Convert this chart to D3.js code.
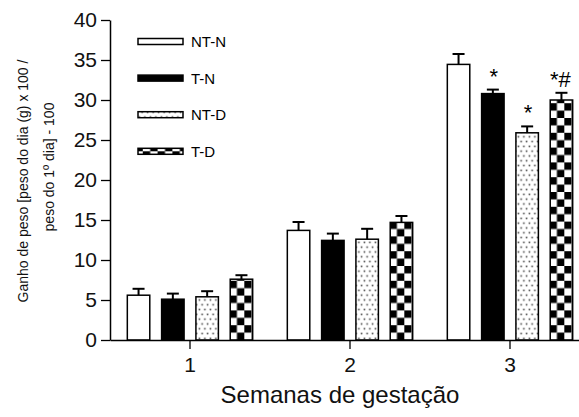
<!DOCTYPE html>
<html>
<head>
<meta charset="utf-8">
<script src="https://cdn.jsdelivr.net/npm/d3@7"></script>
<style>
  body { margin: 0; background: #fff; }
  svg { font-family: "Liberation Sans", Arial, sans-serif; }
</style>
</head>
<body>
<div id="chart"></div>
<script>
const weeks = ["1", "2", "3"];
const series = ["NT-N", "T-N", "NT-D", "T-D"];

// mean weight gain per week (%)
const meanNTN = [5.6, 13.7, 34.45];
const meanTN = [5.1, 12.45, 30.8];
const meanNTD = [5.4, 12.6, 25.9];
const meanTD = [7.6, 14.7, 30.0];

// standard error
const errNTN = [0.8, 1.05, 1.3];
const errTN = [0.7, 0.85, 0.5];
const errNTD = [0.7, 1.3, 0.8];
const errTD = [0.5, 0.8, 0.9];

const yTicks = [0, 5, 10, 15, 20, 25, 30, 35, 40];

const marks = [
    { week: "3", serie: "T-N", label: "*" },
    { week: "3", serie: "NT-D", label: "*" },
    { week: "3", serie: "T-D", label: "*#" }
];

const means = { "NT-N": meanNTN, "T-N": meanTN, "NT-D": meanNTD, "T-D": meanTD };
const errs = { "NT-N": errNTN, "T-N": errTN, "NT-D": errNTD, "T-D": errTD };

const data = [];
weeks.forEach((w, i) => series.forEach(s => data.push({ week: w, serie: s, value: means[s][i], err: errs[s][i] })));

const width = 579, height = 417;
const svg = d3.select("#chart").append("svg")
    .attr("width", width).attr("height", height);

const x = d3.scaleBand().domain(weeks).range([110, 590]);
const xs = d3.scaleBand().domain(series).range([11.4, 148.6]).paddingInner(0.345).paddingOuter(0.1725);
const y = d3.scaleLinear().domain([0, 40]).range([340, 20]);

const defs = svg.append("defs");

const dots = defs.append("pattern").attr("id", "dots")
    .attr("patternUnits", "userSpaceOnUse").attr("width", 5.5).attr("height", 9.6);
dots.append("rect").attr("width", 5.5).attr("height", 9.6).attr("fill", "#fff");
[[1.4, 2.4], [4.15, 7.2]].forEach(([cx, cy]) => {
    dots.append("circle").attr("cx", cx).attr("cy", cy).attr("r", 1.1).attr("fill", "#9a9a9a");
    dots.append("circle").attr("cx", cx).attr("cy", cy).attr("r", 0.5).attr("fill", "#333");
});

function checker(id, x0, y0, size) {
    const p = defs.append("pattern").attr("id", id)
        .attr("patternUnits", "userSpaceOnUse")
        .attr("x", x0).attr("y", y0)
        .attr("width", size * 2).attr("height", size * 2);
    p.append("rect").attr("width", size * 2).attr("height", size * 2).attr("fill", "#fff");
    p.append("rect").attr("width", size).attr("height", size).attr("fill", "#000");
    p.append("rect").attr("x", size).attr("y", size).attr("width", size).attr("height", size).attr("fill", "#000");
    return `url(#${id})`;
}

function fillFor(d) {
    if (d.serie === "NT-N") return "#fff";
    if (d.serie === "T-N") return "#000";
    if (d.serie === "NT-D") return "url(#dots)";
    const bx = x(d.week) + xs(d.serie);
    return checker("chk" + d.week, bx - 0.7, y(0), 7.4);
}

const bars = svg.append("g");
bars.selectAll("g.bar").data(data).join("g").attr("class", "bar").each(function (d) {
    const g = d3.select(this);
    const bx = x(d.week) + xs(d.serie);
    const cx = bx + xs.bandwidth() / 2;
    g.append("line")
        .attr("x1", cx).attr("x2", cx)
        .attr("y1", y(d.value)).attr("y2", y(d.value + d.err))
        .attr("stroke", "#000").attr("stroke-width", 2);
    g.append("line")
        .attr("x1", cx - 6).attr("x2", cx + 6)
        .attr("y1", y(d.value + d.err)).attr("y2", y(d.value + d.err))
        .attr("stroke", "#000").attr("stroke-width", 2);
    g.append("rect")
        .attr("x", bx).attr("y", y(d.value))
        .attr("width", xs.bandwidth()).attr("height", y(0) - y(d.value))
        .attr("fill", fillFor(d))
        .attr("stroke", "#000").attr("stroke-width", 1.5);
});

// significance marks
svg.append("g").selectAll("text").data(marks).join("text")
    .attr("x", d => x(d.week) + xs(d.serie) + xs.bandwidth() / 2 + (d.label.length > 1 ? -1 : 1))
    .attr("y", d => {
        const r = data.find(e => e.week === d.week && e.serie === d.serie);
        return y(r.value + r.err) - 6;
    })
    .attr("text-anchor", "middle")
    .style("font-size", "22px")
    .text(d => d.label);

// axes
const yAxis = svg.append("g").attr("transform", "translate(110,0)")
    .call(d3.axisLeft(y).tickValues(yTicks).tickSize(9).tickPadding(4).tickSizeOuter(0));
yAxis.select(".domain").attr("stroke-width", 1.5);
yAxis.selectAll(".tick line").attr("stroke-width", 1.3);
yAxis.selectAll("text").style("font-size", "21px").attr("fill", "#111");

const xAxis = svg.append("g").attr("transform", "translate(0,340)")
    .call(d3.axisBottom(x).tickSize(9).tickPadding(8).tickSizeOuter(0));
xAxis.select(".domain").attr("stroke-width", 1.5);
xAxis.selectAll(".tick line").attr("stroke-width", 1.3);
xAxis.selectAll("text").style("font-size", "21px").attr("fill", "#111");

svg.append("text")
    .attr("x", 340).attr("y", 403)
    .attr("text-anchor", "middle")
    .style("font-size", "24px")
    .attr("fill", "#111")
    .text("Semanas de gestação");

const yTitle = svg.append("text")
    .attr("transform", "rotate(-90)")
    .attr("text-anchor", "middle")
    .style("font-size", "14px")
    .attr("fill", "#111");
yTitle.append("tspan").attr("x", -181).attr("y", 28).text("Ganho de peso [peso do dia (g) x 100 /");
yTitle.append("tspan").attr("x", -167).attr("y", 54).text("peso do 1º dia] - 100");

// legend
const legend = svg.append("g").selectAll("g").data(series).join("g")
    .attr("transform", (d, i) => `translate(138,${41.5 + i * 36.6})`);
legend.append("rect")
    .attr("x", 0).attr("y", -3).attr("width", 45).attr("height", 6)
    .attr("fill", (d, i) => d === "T-D" ? checker("chkLeg", 138, 0, 7.4) : fillFor({ serie: d }))
    .attr("stroke", "#000").attr("stroke-width", 1.5);
legend.append("text")
    .attr("x", 53).attr("y", 0).attr("dy", "0.36em")
    .style("font-size", "15px")
    .text(d => d);
</script>
</body>
</html>
